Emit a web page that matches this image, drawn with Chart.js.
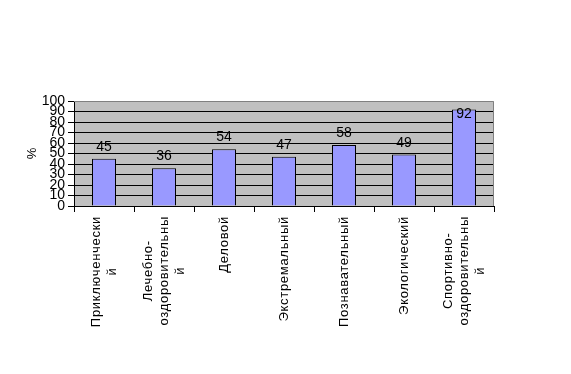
<!DOCTYPE html>
<html>
<head>
<meta charset="utf-8">
<script src="https://cdn.jsdelivr.net/npm/chart.js@4/dist/chart.umd.min.js"></script>
<style>
  html, body { margin: 0; padding: 0; background: #ffffff; }
  #chart { display: block; }
</style>
</head>
<body>
<canvas id="chart" width="571" height="374"></canvas>
<script>
// Категории (подписи оси X, по строкам)
const categories = [
    ["Приключенчески", "й"],
    ["Лечебно-", "оздоровительны", "й"],
    ["Деловой"],
    ["Экстремальный"],
    ["Познавательный"],
    ["Экологический"],
    ["Спортивно-", "оздоровительны", "й"]
];

// Значения, %
const values = [45, 36, 54, 47, 58, 49, 92];

// Шкала Y
const yMin = 0;
const yMax = 100;
const yStep = 10;
const yTitle = "%";

const FONT = "Arial, 'Liberation Sans', sans-serif";

// Серый фон области построения и рамка сверху/справа
const plotBackground = {
    id: 'plotBackground',
    beforeDraw(chart) {
        const {ctx, chartArea: a} = chart;
        ctx.save();
        ctx.fillStyle = '#C0C0C0';
        ctx.fillRect(a.left, a.top, a.right - a.left, a.bottom - a.top);
        ctx.restore();
    },
    afterDraw(chart) {
        const {ctx, chartArea: a} = chart;
        ctx.save();
        ctx.strokeStyle = '#808080';
        ctx.lineWidth = 1;
        ctx.beginPath();
        ctx.moveTo(a.left, Math.round(a.top) + 0.5);
        ctx.lineTo(Math.round(a.right) - 0.5, Math.round(a.top) + 0.5);
        ctx.lineTo(Math.round(a.right) - 0.5, a.bottom);
        ctx.stroke();
        ctx.restore();
    }
};

// Подписи значений над столбцами
const valueLabels = {
    id: 'valueLabels',
    afterDatasetsDraw(chart) {
        const {ctx, chartArea: a} = chart;
        const meta = chart.getDatasetMeta(0);
        ctx.save();
        ctx.font = '14px ' + FONT;
        ctx.fillStyle = '#000000';
        ctx.textAlign = 'center';
        ctx.textBaseline = 'alphabetic';
        meta.data.forEach((bar, i) => {
            const y = Math.max(bar.y - 8, a.top + 17);
            ctx.fillText(String(values[i]), bar.x, y);
        });
        ctx.restore();
    }
};

// Повёрнутые подписи категорий, строки центрированы внутри блока
const categoryLabels = {
    id: 'categoryLabels',
    afterDraw(chart) {
        const {ctx} = chart;
        const xScale = chart.scales.x;
        const lineHeight = 16;
        const top = xScale.top + 10;
        ctx.save();
        ctx.font = '13px ' + FONT;
        ctx.letterSpacing = '0.7px';
        ctx.fillStyle = '#000000';
        ctx.textAlign = 'center';
        ctx.textBaseline = 'middle';
        categories.forEach((lines, i) => {
            const x = xScale.getPixelForValue(i);
            const maxW = Math.max(...lines.map(l => ctx.measureText(l).width));
            lines.forEach((line, j) => {
                ctx.save();
                ctx.translate(x + (j - (lines.length - 1) / 2) * lineHeight, top + maxW / 2);
                ctx.rotate(-Math.PI / 2);
                ctx.fillText(line, 0, 0);
                ctx.restore();
            });
        });
        ctx.restore();
    }
};

const ctx = document.getElementById('chart').getContext('2d');
new Chart(ctx, {
    type: 'bar',
    data: {
        labels: categories.map(c => c.join(' ')),
        datasets: [{
            data: values,
            backgroundColor: '#9999FF',
            borderColor: '#000000',
            borderWidth: 1,
            barPercentage: 0.4,
            categoryPercentage: 1.0
        }]
    },
    options: {
        responsive: false,
        devicePixelRatio: 1,
        animation: false,
        layout: {
            padding: {left: 0, top: 101, right: 77, bottom: 0}
        },
        plugins: {
            legend: {display: false},
            tooltip: {enabled: false}
        },
        scales: {
            x: {
                offset: true,
                ticks: {display: false},
                grid: {
                    offset: true,
                    drawOnChartArea: false,
                    drawTicks: true,
                    tickLength: 6,
                    color: '#000000'
                },
                border: {color: '#000000', width: 1},
                afterFit(scale) { scale.height = 168; }
            },
            y: {
                min: yMin,
                max: yMax,
                ticks: {
                    stepSize: yStep,
                    autoSkip: false,
                    padding: 3,
                    color: '#000000',
                    font: {family: FONT, size: 14}
                },
                grid: {
                    color: c => (c.tick && c.tick.value === yMax) ? 'rgba(0,0,0,0)' : '#000000',
                    tickColor: '#000000',
                    drawTicks: true,
                    tickLength: 6
                },
                border: {color: '#000000', width: 1},
                title: {
                    display: true,
                    text: yTitle,
                    color: '#000000',
                    font: {family: FONT, size: 13},
                    padding: {top: 25, bottom: 0}
                },
                afterFit(scale) { scale.width = 74; }
            }
        }
    },
    plugins: [plotBackground, valueLabels, categoryLabels]
});
</script>
</body>
</html>
